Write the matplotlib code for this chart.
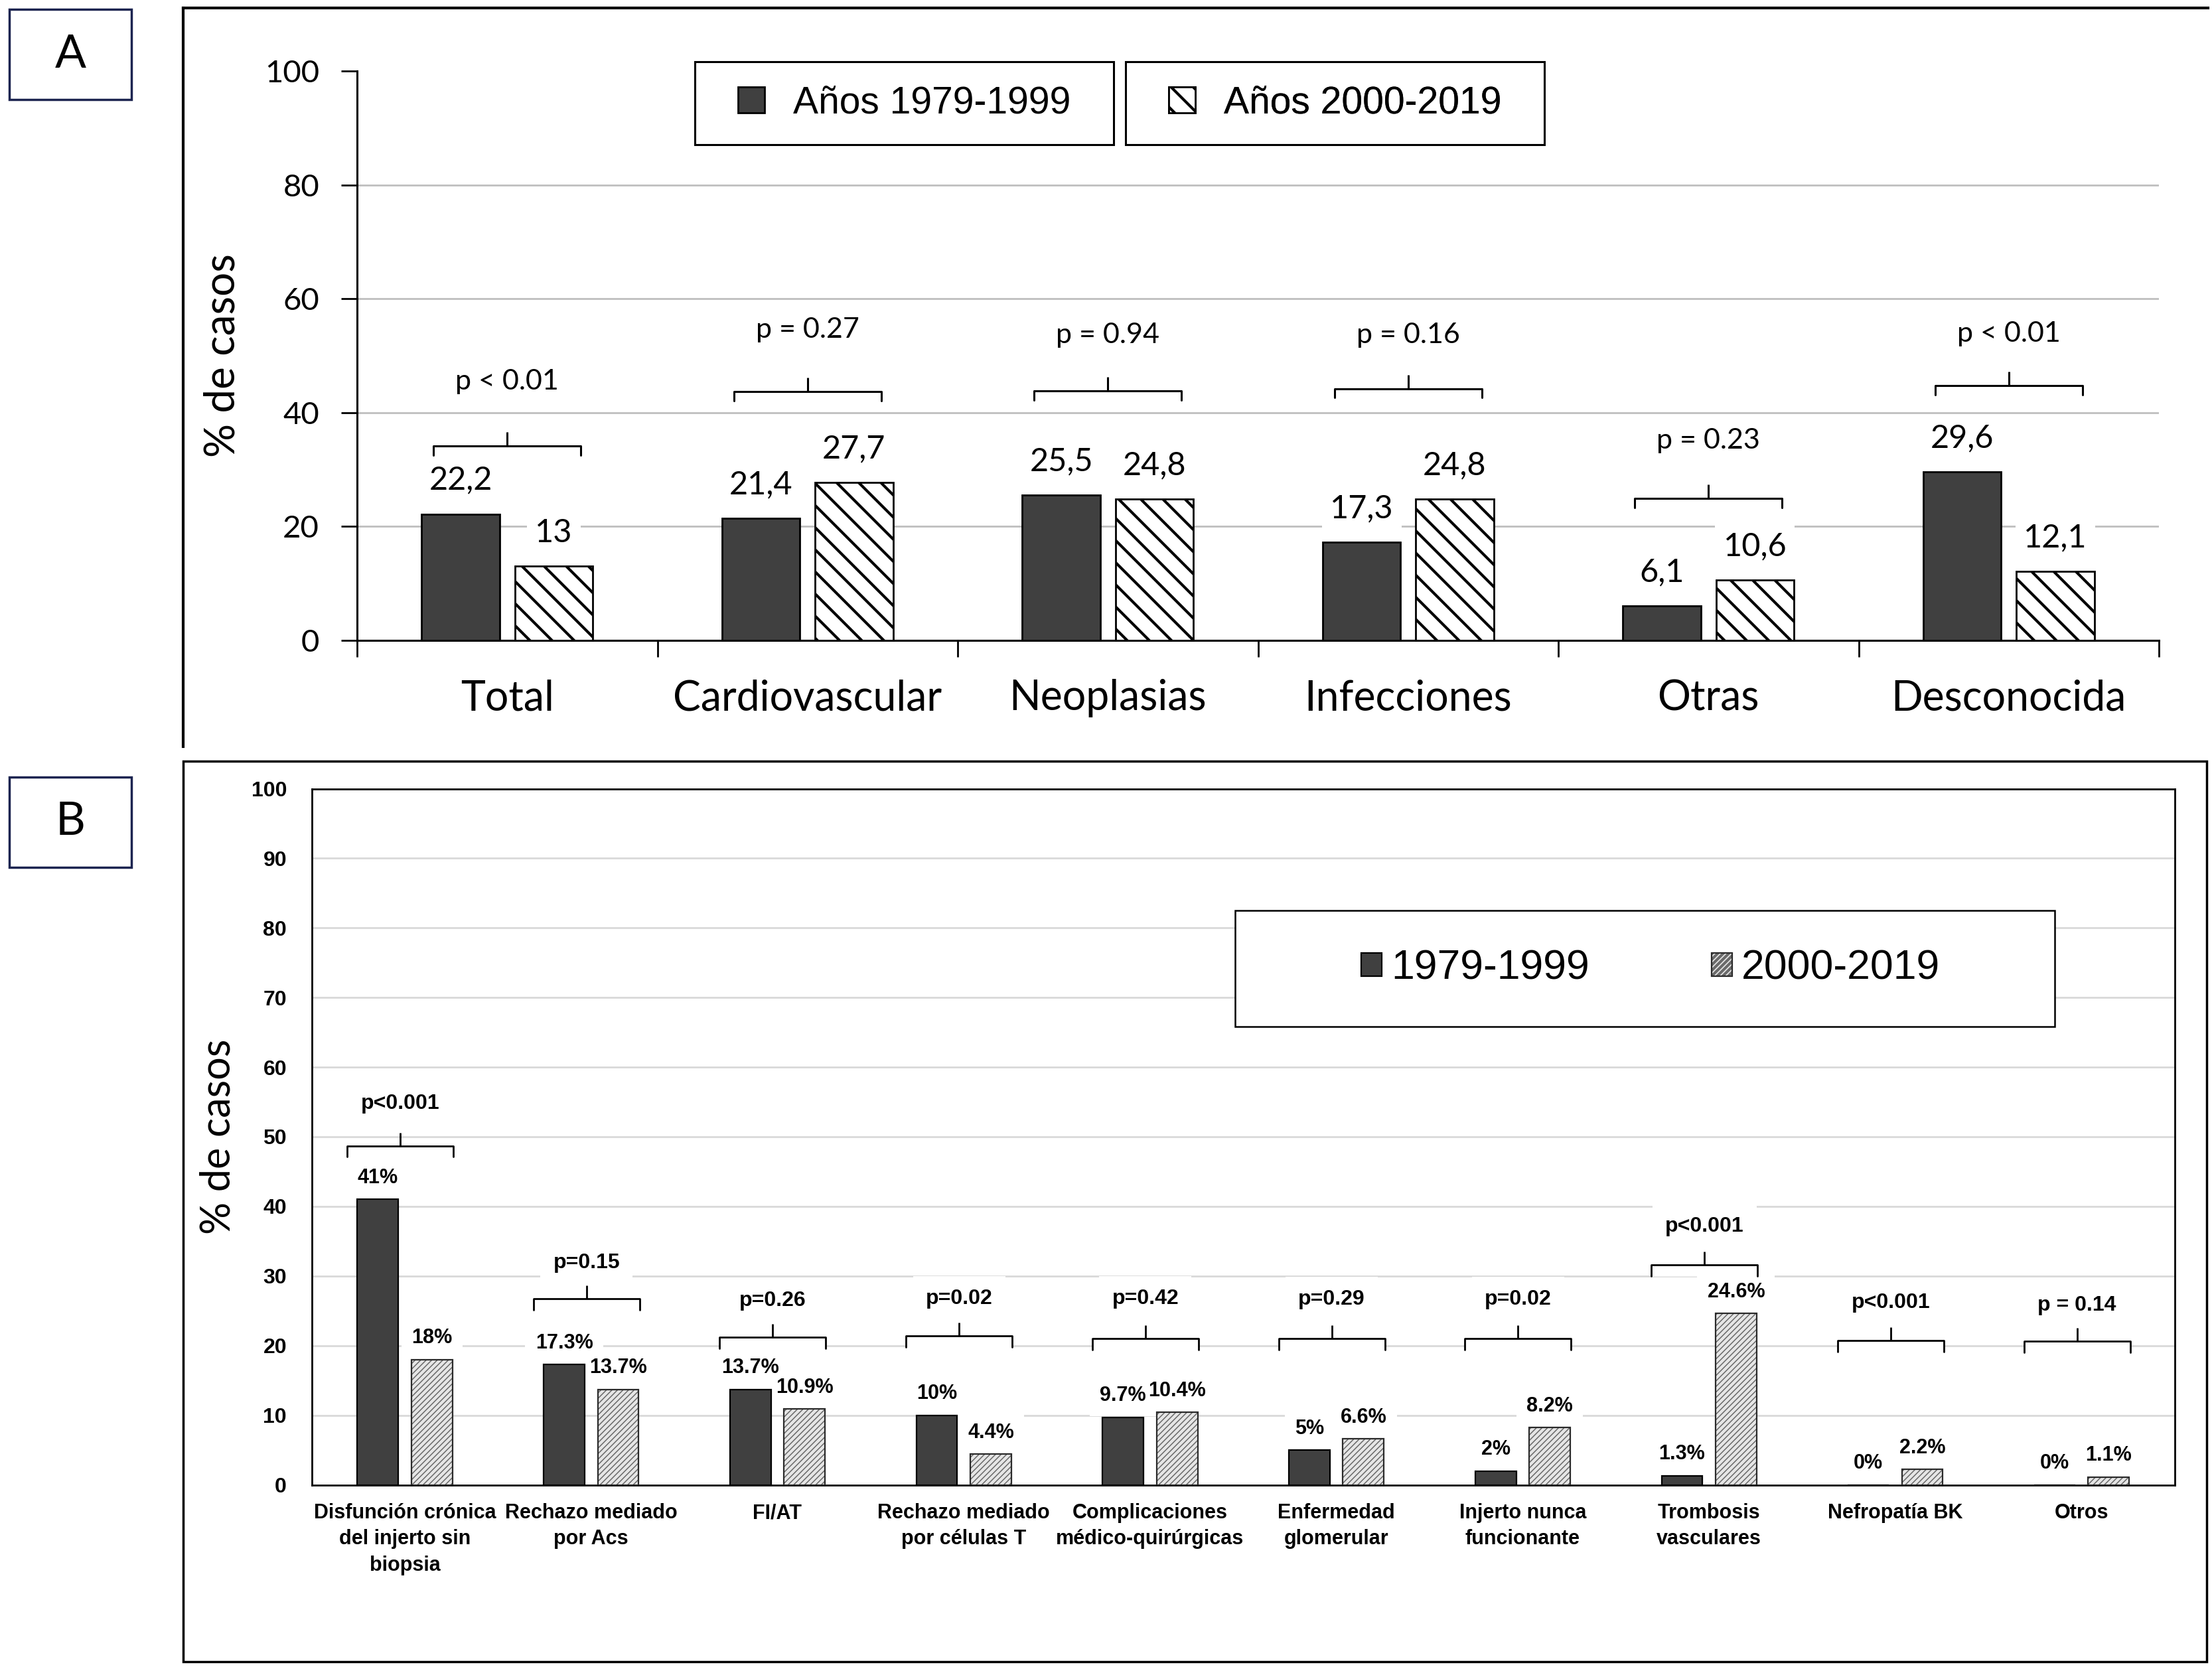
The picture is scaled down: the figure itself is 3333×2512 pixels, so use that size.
import numpy as np
import matplotlib.pyplot as plt
from matplotlib.patches import Rectangle, Polygon
from matplotlib.lines import Line2D
from matplotlib.legend_handler import HandlerTuple

# --------------------------------------------------
# Data - panel A (causas de muerte)
# --------------------------------------------------
cat_a = ['Total', 'Cardiovascular', 'Neoplasias', 'Infecciones', 'Otras', 'Desconocida']
a_1979 = [22.2, 21.4, 25.5, 17.3, 6.1, 29.6]
a_2000 = [13, 27.7, 24.8, 24.8, 10.6, 12.1]
a_pval = ['p < 0.01', 'p = 0.27', 'p = 0.94', 'p = 0.16', 'p = 0.23', 'p < 0.01']
a_brk_y = [34.1, 43.7, 43.8, 44.2, 24.9, 44.7]     # bracket level
a_ptxt_y = [45.4, 54.5, 53.6, 53.6, 35.1, 53.8]    # p-value text level

# --------------------------------------------------
# Data - panel B (causas de pérdida del injerto)
# --------------------------------------------------
cat_b = ['Disfunción crónica\ndel injerto sin\nbiopsia', 'Rechazo mediado\npor Acs', 'FI/AT',
         'Rechazo mediado\npor células T', 'Complicaciones\nmédico-quirúrgicas',
         'Enfermedad\nglomerular', 'Injerto nunca\nfuncionante', 'Trombosis\nvasculares',
         'Nefropatía BK', 'Otros']
b_1979 = [41, 17.3, 13.7, 10, 9.7, 5, 2, 1.3, 0, 0]
b_2000 = [18, 13.7, 10.9, 4.4, 10.4, 6.6, 8.2, 24.6, 2.2, 1.1]
b_pval = ['p<0.001', 'p=0.15', 'p=0.26', 'p=0.02', 'p=0.42', 'p=0.29', 'p=0.02',
          'p<0.001', 'p<0.001', 'p = 0.14']
b_brk_y = [48.7, 26.7, 21.2, 21.4, 21.0, 21.0, 21.0, 31.6, 20.7, 20.6]
b_ptxt_y = [54.8, 31.9, 26.5, 26.7, 26.7, 26.6, 26.6, 37.1, 26.2, 25.8]

# --------------------------------------------------
# Style
# --------------------------------------------------
plt.rcParams['font.family'] = ['Lato', 'DejaVu Sans']
plt.rcParams['hatch.linewidth'] = 3.0

DARK = '#404040'
BOLD = {'family': 'Liberation Sans', 'weight': 'bold'}
W, H = 3333, 2512


def fx(px):
    return px / W


def fy(py):
    return 1 - py / H


def bracket(ax, x0, x1, y, drop, rise, lw):
    poly = Polygon([[x0, y - drop], [x0, y], [x1, y], [x1, y - drop]], closed=False,
                   facecolor='white', edgecolor='black', lw=lw, zorder=3.5,
                   joinstyle='round', capstyle='round')
    ax.add_patch(poly)
    xm = (x0 + x1) / 2
    ax.plot([xm, xm], [y, y + rise], color='black', lw=lw, zorder=3.5,
            solid_capstyle='butt')


def boxed_label(ax, x, y, s, pad, **kw):
    # white box below, text on top, so neighbouring boxes never hide a label
    ax.text(x, y, s, ha='center', va='center', color='none', zorder=2.4,
            bbox=dict(fc='white', ec='none', boxstyle=f'square,pad={pad}'), **kw)
    ax.text(x, y, s, ha='center', va='center', zorder=2.6, **kw)


def hatch_lw(bars, lw):
    for p in bars:
        if hasattr(p, 'set_hatch_linewidth'):
            p.set_hatch_linewidth(lw)


fig = plt.figure(figsize=(33.33, 25.12), dpi=100)

# panel frames and letters
fig.add_artist(Line2D([fx(276), fx(3327)], [fy(12), fy(12)], color='black', lw=3))
fig.add_artist(Line2D([fx(276), fx(276)], [fy(12), fy(1125)], color='black', lw=3))
fig.add_artist(Rectangle((fx(276), fy(2504)), fx(3325) - fx(276), (2504 - 1147) / H,
                         fill=False, ec='black', lw=2.5))
for letter, top, bot in [('A', 14, 150), ('B', 1171, 1307)]:
    fig.add_artist(Rectangle((fx(14), fy(bot)), fx(198) - fx(14), (bot - top) / H,
                             fill=False, ec='#1c2450', lw=2.5))
    fig.text(fx(106), fy((top + bot) / 2), letter, fontsize=50, ha='center', va='center')

# --------------------------------------------------
# Panel A
# --------------------------------------------------
ax_a = fig.add_axes([fx(538), fy(965), (3253 - 538) / W, (965 - 107) / H])
xa = np.arange(len(cat_a))
off_a, w_a = 0.155, 0.26

bars_a1 = ax_a.bar(xa - off_a, a_1979, w_a, color=DARK, edgecolor='black', lw=2, zorder=3)
bars_a2 = ax_a.bar(xa + off_a, a_2000, w_a, color='white', edgecolor='black', hatch='\\',
                   lw=2, zorder=3)
hatch_lw(bars_a2, 3.0)

for t in [20, 40, 60, 80]:
    ax_a.axhline(t, color='#bfbfbf', lw=2, zorder=0)

for xi, v1, v2 in zip(xa, a_1979, a_2000):
    for xo, v in [(xi - off_a, v1), (xi + off_a, v2)]:
        boxed_label(ax_a, xo, v + 5.9, ('%g' % v).replace('.', ','), 0.25, fontsize=35)

for xi, p, yb, yt in zip(xa, a_pval, a_brk_y, a_ptxt_y):
    bracket(ax_a, xi - 0.245, xi + 0.245, yb, 1.6, 2.45, 2.2)
    ax_a.text(xi, yt, p, ha='center', va='center', fontsize=31, zorder=5)

ax_a.set_xlim(-0.5, len(cat_a) - 0.5)
ax_a.set_ylim(0, 100)
ax_a.set_yticks(np.arange(0, 101, 20))
ax_a.set_xticks(xa)
ax_a.set_xticklabels(cat_a)
ax_a.set_xticks(np.arange(-0.5, len(cat_a)), minor=True)
ax_a.tick_params(axis='x', which='major', length=0, pad=42, labelsize=45)
ax_a.tick_params(axis='x', which='minor', length=18, width=2, direction='out')
ax_a.tick_params(axis='y', length=17, width=2, pad=24, labelsize=34)
for s in ['top', 'right']:
    ax_a.spines[s].set_visible(False)
for s in ['left', 'bottom']:
    ax_a.spines[s].set_linewidth(2.2)
ax_a.set_ylabel('% de casos', fontsize=46)
ax_a.yaxis.set_label_coords(-0.064, 0.5)

# legend A: two separate boxes
leg_font = {'family': 'Liberation Sans', 'size': 41}
for handle, label, x0, x1 in [(bars_a1, 'Años 1979-1999', 1047, 1678),
                              (bars_a2, 'Años 2000-2019', 1696, 2327)]:
    box = Rectangle((fx(x0), fy(218)), (x1 - x0) / W, (218 - 93) / H,
                    transform=fig.transFigure, fc='white', ec='black', lw=2.2, zorder=4)
    ax_a.add_patch(box)
    box.set_clip_on(False)
    leg = ax_a.legend([handle], [label], loc='center',
                      bbox_to_anchor=(fx((x0 + x1) / 2), fy(155.5)),
                      bbox_transform=fig.transFigure, frameon=False, prop=leg_font,
                      handlelength=0.7, handleheight=0.65, handletextpad=0.75,
                      borderpad=0, borderaxespad=0)
    ax_a.add_artist(leg)

# --------------------------------------------------
# Panel B
# --------------------------------------------------
ax_b = fig.add_axes([fx(469.6), fy(2237.5), (3277 - 469.6) / W, 1049 / H])
xb = np.arange(len(cat_b))
off_b, w_b = 0.145, 0.22

bars_b1 = ax_b.bar(xb - off_b, b_1979, w_b, color=DARK, edgecolor='black', lw=1.6, zorder=3)
# hatched fill (grey hatch) + dark outline on top
bars_b2 = ax_b.bar(xb + off_b, b_2000, w_b, color='#e6e6e6', edgecolor='#6a6a6a',
                   hatch='////', lw=0, zorder=3)
hatch_lw(bars_b2, 1.1)
bars_b2o = ax_b.bar(xb + off_b, b_2000, w_b, fill=False, edgecolor='#2a2a2a', lw=1.6,
                    zorder=3.1)

for t in range(10, 100, 10):
    ax_b.axhline(t, color='#d9d9d9', lw=2, zorder=0)

for xi, v1, v2 in zip(xb, b_1979, b_2000):
    for xo, v in [(xi - off_b, v1), (xi + off_b, v2)]:
        boxed_label(ax_b, xo, v + 3.1, f'{v:g}%', 0.5, fontsize=22, fontdict=BOLD)

for xi, p, yb, yt in zip(xb, b_pval, b_brk_y, b_ptxt_y):
    bracket(ax_b, xi - 0.31, xi + 0.26, yb, 1.6, 1.9, 2.0)
    ax_b.text(xi - 0.025, yt, p, ha='center', va='center', fontsize=23,
              fontdict=BOLD, zorder=5,
              bbox=dict(fc='white', ec='none', boxstyle='square,pad=0.6'))

ax_b.set_xlim(-0.5, len(cat_b) - 0.5)
ax_b.set_ylim(0, 100)
ax_b.set_yticks(np.arange(0, 101, 10))
ax_b.set_xticks(xb)
ax_b.set_xticklabels(cat_b, fontdict=BOLD, fontsize=22, linespacing=1.4)
ax_b.tick_params(axis='x', length=0, pad=20)
ax_b.tick_params(axis='y', length=0, pad=27)
for lab in ax_b.get_yticklabels():
    lab.set_fontfamily('Liberation Sans')
    lab.set_fontweight('bold')
    lab.set_fontsize(23)
for s in ax_b.spines.values():
    s.set_linewidth(2)
ax_b.set_ylabel('% de casos', fontsize=44)
ax_b.yaxis.set_label_coords(-0.04, 0.5)

# legend B
box_b = Rectangle((fx(1861), fy(1547)), (3096 - 1861) / W, (1547 - 1372) / H,
                  transform=fig.transFigure, fc='white', ec='black', lw=1.8, zorder=4)
ax_b.add_patch(box_b)
box_b.set_clip_on(False)
ax_b.legend([bars_b1, (bars_b2, bars_b2o)], ['1979-1999', '2000-2019'], ncol=2, loc='center',
            bbox_to_anchor=(fx(2487), fy(1459.5)), bbox_transform=fig.transFigure,
            frameon=False, prop={'family': 'Liberation Sans', 'size': 45},
            handlelength=0.5, handleheight=0.48, handletextpad=0.22,
            columnspacing=2.94, borderpad=0, borderaxespad=0,
            handler_map={tuple: HandlerTuple(ndivide=1, pad=0)})

fig.savefig('out.png', dpi=100)
